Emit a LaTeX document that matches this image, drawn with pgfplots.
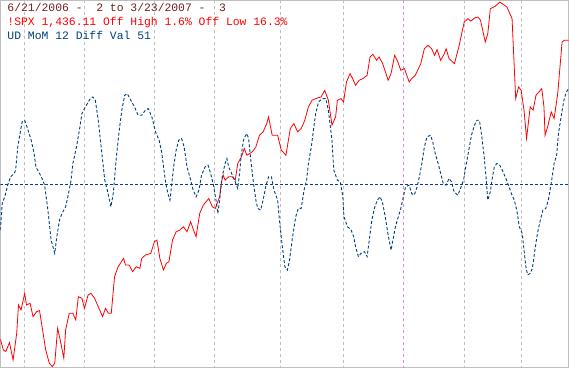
\documentclass[border=0pt]{standalone}
\usepackage{pgfplots}
\pgfplotsset{compat=1.18}
\usepackage{fontspec}
\newfontfamily\monof{Liberation Mono}
\definecolor{spxred}{RGB}{255,0,0}
\definecolor{udblue}{RGB}{0,64,128}
\definecolor{hdr}{RGB}{112,32,32}
\definecolor{gridg}{RGB}{190,190,190}
\definecolor{pinkg}{RGB}{235,130,235}
\begin{document}
\begin{tikzpicture}
\begin{axis}[
  scale only axis, width=569pt, height=368pt,
  xmin=0, xmax=1568, ymin=0, ymax=1104, y dir=reverse,
  axis line style={draw=gridg, line width=0.8pt},
  xtick={67,232,426,591,773,947,1280,1437}, xticklabels={},
  extra x ticks={1112}, extra x tick labels={},
  extra x tick style={grid=major, major grid style={pinkg, dashed, line width=0.6pt}},
  ytick=\empty, major tick length=0pt,
  xmajorgrids, major grid style={gridg, dashed, line width=0.6pt},
  clip=true,
]
% zero line of oscillator
\addplot[udblue, line width=0.9pt, dash pattern=on 3pt off 2pt] coordinates {(0,552) (1568,552)};
% SPX
\addplot[spxred, line width=0.8pt] coordinates {
(0,1018) (8,1050) (15,1055) (25,1028) (35,1080) (45,1000) (50,915) (57,930) (67,880) (72,915) (82,910) (90,950) (100,935) (108,932) (115,980) (125,1050) (135,1090) (143,1100) (150,1090) (158,985) (165,1020) (175,1075) (180,990) (190,940) (200,940) (208,960) (215,890) (225,895) (232,925) (242,885) (250,880) (260,895) (272,925) (282,950) (290,925) (298,940) (306,940) (315,830) (325,800) (340,775) (345,795) (355,795) (365,815) (375,800) (385,805) (390,775) (400,765) (415,760) (425,725) (432,720) (440,775) (450,810) (458,790) (465,785) (475,720) (485,695) (495,690) (505,680) (515,695) (525,665) (533,690) (540,710) (550,640) (560,615) (575,595) (585,620) (593,625) (605,590) (610,545) (615,525) (620,540) (630,530) (640,530) (648,540) (655,490) (665,470) (673,445) (680,465) (688,460) (695,455) (705,440) (715,405) (725,395) (735,370) (740,350) (750,405) (765,405) (775,450) (788,465) (800,385) (810,370) (820,395) (830,385) (840,360) (850,320) (860,300) (870,295) (885,290) (895,270) (905,300) (915,375) (925,350) (930,300) (940,295) (947,305) (955,245) (965,220) (972,235) (980,255) (990,240) (1000,235) (1012,225) (1020,170) (1028,162) (1038,180) (1045,170) (1055,190) (1070,240) (1078,220) (1088,165) (1095,180) (1105,210) (1115,205) (1128,245) (1135,235) (1145,225) (1160,190) (1170,145) (1180,135) (1190,145) (1198,165) (1205,148) (1215,180) (1225,160) (1230,145) (1238,175) (1253,190) (1265,140) (1280,65) (1290,55) (1298,62) (1310,52) (1318,50) (1325,60) (1338,125) (1345,100) (1352,25) (1365,18) (1378,5) (1385,10) (1398,20) (1412,55) (1418,200) (1422,295) (1430,260) (1437,270) (1445,330) (1452,415) (1462,320) (1470,330) (1478,285) (1494,265) (1500,320) (1503,405) (1510,380) (1520,335) (1528,355) (1538,280) (1550,125) (1556,120) (1568,120)
};
% UD MoM oscillator
\addplot[udblue, line width=0.9pt, dash pattern=on 3pt off 2pt] coordinates {
(0,690) (5,610) (12,590) (20,555) (28,530) (38,520) (42,510) (48,440) (55,395) (60,365) (67,360) (75,385) (85,420) (93,460) (98,500) (108,520) (115,535) (122,555) (130,620) (140,720) (150,760) (155,715) (163,660) (170,640) (180,620) (188,580) (195,540) (200,490) (210,440) (218,390) (225,340) (232,325) (240,310) (248,295) (255,290) (262,300) (270,360) (280,460) (288,540) (295,570) (305,620) (312,575) (320,470) (328,390) (335,330) (343,285) (350,280) (360,300) (370,320) (380,345) (390,345) (400,330) (408,325) (418,350) (428,395) (438,420) (445,455) (455,540) (462,580) (468,600) (472,560) (478,500) (485,450) (492,420) (500,415) (507,440) (515,500) (525,540) (532,570) (540,590) (548,570) (555,525) (565,500) (573,495) (580,520) (588,555) (595,600) (600,640) (605,600) (612,530) (620,490) (625,475) (630,500) (640,525) (648,545) (655,565) (660,520) (665,460) (672,415) (680,400) (685,415) (690,470) (698,545) (705,600) (710,625) (718,630) (725,600) (732,560) (740,530) (748,530) (755,570) (765,600) (770,660) (778,740) (785,800) (792,810) (798,780) (805,720) (815,650) (822,625) (830,625) (838,570) (845,540) (850,490) (858,440) (865,380) (870,340) (878,305) (888,295) (898,295) (905,330) (915,420) (920,510) (930,540) (938,545) (945,590) (948,650) (958,680) (968,690) (975,710) (980,740) (988,770) (995,760) (1005,755) (1012,770) (1018,720) (1025,660) (1032,625) (1040,600) (1048,590) (1055,610) (1062,650) (1070,705) (1078,750) (1085,710) (1090,680) (1098,650) (1105,625) (1112,590) (1118,560) (1128,555) (1135,580) (1142,585) (1150,560) (1158,520) (1163,490) (1170,440) (1177,410) (1187,405) (1193,425) (1200,460) (1208,490) (1215,520) (1222,550) (1230,555) (1238,535) (1245,545) (1252,575) (1262,585) (1268,570) (1278,540) (1285,495) (1295,435) (1300,405) (1308,375) (1315,360) (1322,360) (1328,405) (1335,470) (1340,530) (1345,600) (1352,575) (1358,530) (1363,500) (1370,490) (1378,495) (1385,510) (1395,535) (1402,555) (1410,580) (1418,600) (1425,630) (1432,680) (1440,700) (1445,750) (1450,800) (1455,825) (1462,820) (1468,805) (1475,750) (1482,700) (1490,660) (1497,630) (1505,625) (1512,600) (1520,550) (1528,490) (1535,465) (1540,400) (1548,345) (1555,300) (1562,275) (1568,265)
};
\node[anchor=base west, inner sep=0pt, text=hdr, font=\monof\fontsize{11.4}{13.7}\selectfont] at (axis cs:19,34) {6/21/2006 -\ \ 2 to 3/23/2007 -\ \ 3};
\node[anchor=base west, inner sep=0pt, text=spxred, font=\monof\fontsize{11.4}{13.7}\selectfont] at (axis cs:19,75) {!SPX 1,436.11 Off High 1.6\% Off Low 16.3\%};
\node[anchor=base west, inner sep=0pt, text=udblue, font=\monof\fontsize{11.4}{13.7}\selectfont] at (axis cs:19,116) {UD MoM 12 Diff Val 51};
\end{axis}
\end{tikzpicture}
\end{document}
